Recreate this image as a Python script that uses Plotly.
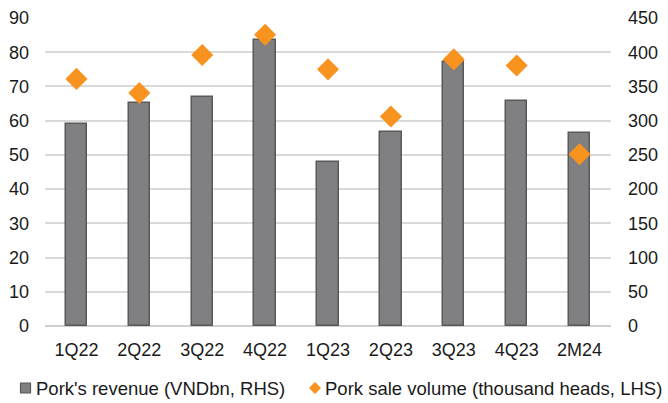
import plotly.graph_objects as go

periods = ["1Q22", "2Q22", "3Q22", "4Q22", "1Q23", "2Q23", "3Q23", "4Q23", "2M24"]
revenue_vnd_bn = [295, 326, 335, 418, 239, 284, 385, 329, 282]
sale_volume_k_heads = [72.2, 68.1, 79.2, 85.1, 75.0, 61.2, 77.9, 76.1, 50.2]

revenue_name = "Pork's revenue (VNDbn, RHS)"
volume_name = "Pork sale volume (thousand heads, LHS)"

FONT = "Liberation Sans, Arial, sans-serif"
FS = 18
LEGEND_FS = 18.5
BAR_FILL, BAR_EDGE, ORANGE = "#808083", "#595959", "#F7931E"

W, H = 668, 403
ML, MR, MT, MB = 45, 57, 18, 77
PW, PH = W - ML - MR, H - MT - MB


def px_x(px):
    """Pixel column -> paper x."""
    return (px - ML) / PW


def px_y(py):
    """Pixel row -> paper y."""
    return (H - MB - py) / PH


fig = go.Figure()
# Revenue bars on the primary axis (right side, 0-450)
fig.add_trace(go.Bar(
    x=periods, y=revenue_vnd_bn, yaxis="y", name=revenue_name,
    marker=dict(color=BAR_FILL, line=dict(color=BAR_EDGE, width=1.5)),
    width=0.34, showlegend=False,
))
# Volume diamonds on the overlaying axis (left side, 0-90), drawn above the bars
fig.add_trace(go.Scatter(
    x=periods, y=sale_volume_k_heads, yaxis="y2", name=volume_name,
    mode="markers", marker=dict(symbol="diamond", size=17, color=ORANGE),
    showlegend=False,
))

# Legend row below the axis
legend_y = 388
shapes = [
    dict(type="rect", xref="paper", yref="paper",
         x0=px_x(20.5), x1=px_x(30.5), y0=px_y(393), y1=px_y(383),
         fillcolor=BAR_FILL, line=dict(color=BAR_EDGE, width=1.2)),
]
cx, r = 315, 6
shapes.append(dict(
    type="path", xref="paper", yref="paper",
    path=(f"M {px_x(cx - r)},{px_y(legend_y)} L {px_x(cx)},{px_y(legend_y - r)} "
          f"L {px_x(cx + r)},{px_y(legend_y)} L {px_x(cx)},{px_y(legend_y + r)} Z"),
    fillcolor=ORANGE, line=dict(width=0),
))
annotations = [
    dict(text=revenue_name, x=px_x(34), y=px_y(legend_y), xref="paper", yref="paper",
         xanchor="left", yanchor="middle", showarrow=False, font=dict(size=LEGEND_FS)),
    dict(text=volume_name, x=px_x(323), y=px_y(legend_y), xref="paper", yref="paper",
         xanchor="left", yanchor="middle", showarrow=False, font=dict(size=LEGEND_FS)),
]

fig.update_layout(
    width=W, height=H,
    margin=dict(l=ML, r=MR, t=MT, b=MB, autoexpand=False),
    paper_bgcolor="white", plot_bgcolor="white",
    font=dict(family=FONT, size=FS, color="#1a1a1a"),
    showlegend=False,
    shapes=shapes, annotations=annotations,
    xaxis=dict(range=[-0.5, 8.5], showgrid=False, showline=False, ticks="",
               tickfont=dict(size=FS), ticklabelstandoff=11),
    yaxis=dict(range=[0, 450], dtick=50, side="right", showgrid=True,
               gridcolor="#d9d9d9", gridwidth=1.5,
               zeroline=True, zerolinecolor="#d0d0d0", zerolinewidth=1.5,
               ticks="", tickfont=dict(size=FS), ticklabelstandoff=16),
    yaxis2=dict(range=[0, 90], dtick=10, overlaying="y", side="left", showgrid=False,
                zeroline=False, ticks="", tickfont=dict(size=FS), ticklabelstandoff=15),
    bargap=0,
)

fig.write_html("out.html")
